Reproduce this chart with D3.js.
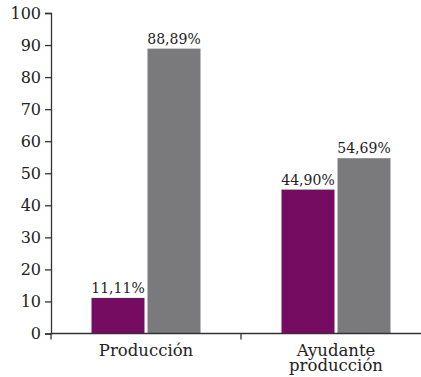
<!DOCTYPE html>
<html>
<head>
<meta charset="utf-8">
<script src="https://cdn.jsdelivr.net/npm/d3@7"></script>
<style>
  html, body { margin: 0; padding: 0; background: #fff; }
  svg { display: block; }
  text { font-family: "DejaVu Serif", serif; fill: #222; }
</style>
</head>
<body>
<svg id="chart" width="421" height="377"></svg>
<script>
// Categories (second one wraps on two lines)
const categories = ["Producción", "Ayudante producción"];
const categoryLines = [["Producción"], ["Ayudante", "producción"]];
const series = ["a", "b"];
// Percentages per category, one array per series
const seriesA = [11.11, 44.90];
const seriesB = [88.89, 54.69];
const valueLabels = [["11,11%", "88,89%"], ["44,90%", "54,69%"]];
const yTicks = [0, 10, 20, 30, 40, 50, 60, 70, 80, 90, 100];
const colors = { a: "#760c62", b: "#7a7a7c" };

const svg = d3.select("#chart");
const x0 = d3.scaleBand().domain(categories).range([51, 431]).padding(0);
const groupW = 109;
const off = (x0.bandwidth() - groupW) / 2;
const x1 = d3.scaleBand().domain(series).range([off, off + groupW]).paddingInner(3 / 56).paddingOuter(0);
const y = d3.scaleLinear().domain([0, 100]).range([333.5, 13]);

const rows = categories.map((c, i) => ({ cat: c, i, vals: [{ s: "a", v: seriesA[i] }, { s: "b", v: seriesB[i] }] }));

// Bars
const g = svg.append("g");
const groups = g.selectAll("g.grp").data(rows).join("g")
  .attr("class", "grp")
  .attr("transform", d => `translate(${x0(d.cat)},0)`);
groups.selectAll("rect").data(d => d.vals).join("rect")
  .attr("x", d => x1(d.s))
  .attr("width", x1.bandwidth())
  .attr("y", d => y(d.v))
  .attr("height", d => y(0) - y(d.v))
  .attr("fill", d => colors[d.s]);

// Value labels
groups.selectAll("text.val").data(d => d.vals.map((v, j) => ({ ...v, label: valueLabels[d.i][j] }))).join("text")
  .attr("class", "val")
  .attr("x", d => x1(d.s) + x1.bandwidth() / 2)
  .attr("y", d => y(d.v) - 5)
  .attr("text-anchor", "middle")
  .style("font-size", "14px")
  .text(d => d.label);

// Y axis
const yAxis = svg.append("g")
  .attr("transform", "translate(51,0)")
  .call(d3.axisLeft(y).tickValues(yTicks).tickSize(6).tickPadding(4))
  .attr("font-family", null)
  .attr("font-size", null);
yAxis.selectAll("text").style("font-size", "16px").attr("fill", "#222");
yAxis.selectAll("path, line").attr("stroke", "#333").attr("stroke-width", 1.3);

// X axis line and band-boundary ticks
const xg = svg.append("g");
xg.append("line")
  .attr("x1", 51).attr("x2", 431)
  .attr("y1", y(0)).attr("y2", y(0))
  .attr("stroke", "#333").attr("stroke-width", 1.3);
const bounds = categories.map(c => x0(c)).concat([x0.range()[1]]);
xg.selectAll("line.bt").data(bounds).join("line")
  .attr("class", "bt")
  .attr("x1", d => d).attr("x2", d => d)
  .attr("y1", y(0)).attr("y2", y(0) + 6)
  .attr("stroke", "#333").attr("stroke-width", 1.3);

// Category labels
const lab = xg.selectAll("text.cat").data(rows).join("text")
  .attr("class", "cat")
  .attr("text-anchor", "middle")
  .style("font-size", "16.5px")
  .attr("transform", d => `translate(${x0(d.cat) + x0.bandwidth() / 2},0)`);
lab.each(function (d) {
  const lines = categoryLines[d.i];
  const t = d3.select(this);
  const base = 355.5;
  lines.forEach((l, k) => {
    t.append("tspan").attr("x", 0).attr("y", base + k * 15).text(l);
  });
});
</script>
</body>
</html>
